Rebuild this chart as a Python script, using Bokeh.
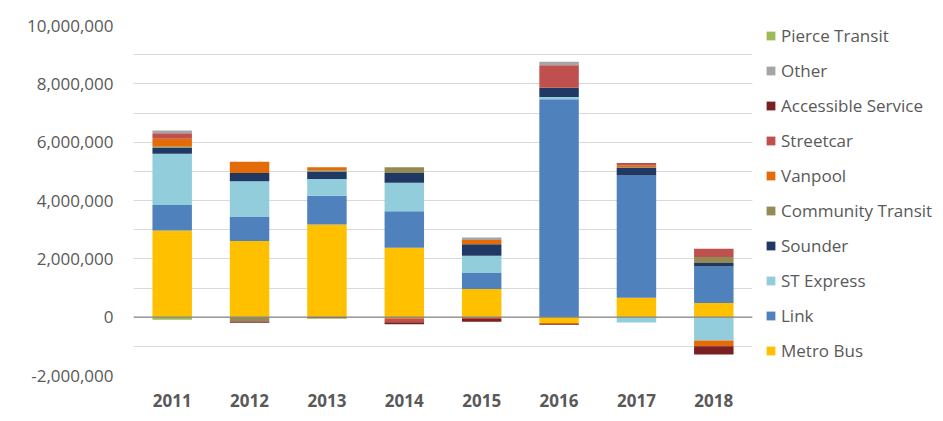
from bokeh.plotting import figure
from bokeh.models import (ColumnDataSource, Legend, LegendItem, Span,
                          SingleIntervalTicker, NumeralTickFormatter, FactorRange)
from bokeh.embed import file_html
from bokeh.resources import INLINE

years = ["2011", "2012", "2013", "2014", "2015", "2016", "2017", "2018"]

metro_bus = [2.97, 2.61, 3.18, 2.38, 0.97, -0.20, 0.67, 0.49]
link = [0.88, 0.84, 0.98, 1.25, 0.56, 7.47, 4.19, 1.25]
st_express = [1.75, 1.21, 0.58, 0.98, 0.58, 0.08, -0.18, -0.80]
sounder = [0.21, 0.28, 0.25, 0.33, 0.39, 0.32, 0.26, 0.12]
community_transit = [0.05, -0.15, 0.05, 0.20, 0.00, 0.00, 0.03, 0.20]
vanpool = [0.26, 0.39, 0.10, -0.05, 0.15, -0.03, 0.06, -0.20]
streetcar = [0.19, 0.00, 0.00, -0.12, -0.06, 0.77, 0.08, 0.29]
accessible_service = [0.00, -0.04, -0.04, -0.07, -0.10, -0.03, 0.00, -0.28]
other = [0.09, 0.00, 0.00, 0.00, 0.08, 0.12, 0.00, 0.00]
pierce_transit = [-0.09, 0.00, -0.01, 0.00, 0.00, 0.00, 0.00, 0.00]

series_names = ["Metro Bus", "Link", "ST Express", "Sounder", "Community Transit",
                "Vanpool", "Streetcar", "Accessible Service", "Other", "Pierce Transit"]
series_values = [metro_bus, link, st_express, sounder, community_transit,
                 vanpool, streetcar, accessible_service, other, pierce_transit]
series_colors = ["#FFC000", "#4F81BD", "#92CDDC", "#1F3864", "#948A54",
                 "#E36C09", "#C0504D", "#7B2020", "#A5A5A5", "#9BBB59"]

TXT = "#595959"
FONT = "Open Sans"

p = figure(x_range=FactorRange(*years), y_range=(-2_000_000, 10_000_000),
           frame_width=619, frame_height=350,
           min_border_left=133, min_border_top=25, min_border_bottom=44,
           min_border_right=0,
           output_backend="svg", toolbar_location=None)
p.outline_line_color = None

pos = [0.0] * len(years)
neg = [0.0] * len(years)
items = []
for name, vals, col in zip(series_names, series_values, series_colors):
    bottoms, tops = [], []
    for i, v in enumerate(vals):
        v = v * 1_000_000
        if v >= 0:
            bottoms.append(pos[i]); tops.append(pos[i] + v); pos[i] += v
        else:
            bottoms.append(neg[i]); tops.append(neg[i] + v); neg[i] += v
    src = ColumnDataSource(dict(x=years, bottom=bottoms, top=tops))
    r = p.vbar(x="x", bottom="bottom", top="top", width=0.51, source=src,
               fill_color=col, line_color=None)
    items.append(LegendItem(label=name, renderers=[r]))

p.add_layout(Span(location=0, dimension="width", line_color="#868686", line_width=1.2))

ticker = SingleIntervalTicker(interval=2_000_000, num_minor_ticks=2)
p.yaxis.ticker = ticker
p.yaxis.formatter = NumeralTickFormatter(format="0,0")
p.ygrid.ticker = ticker
p.ygrid.grid_line_color = "#D9D9D9"
p.ygrid.minor_grid_line_color = "#D9D9D9"
p.xgrid.grid_line_color = None

for ax in (p.xaxis, p.yaxis):
    ax.axis_line_color = None
    ax.major_tick_line_color = None
    ax.minor_tick_line_color = None
    ax.major_label_text_color = TXT
    ax.major_label_text_font = FONT
    ax.major_label_text_font_size = "17px"
p.yaxis.major_label_standoff = 14
p.xaxis.major_label_standoff = 12
p.xaxis.major_label_text_font_style = "bold"

legend = Legend(items=list(reversed(items)), location=(13, 13),
                glyph_width=11, glyph_height=11, label_height=20, spacing=12,
                label_standoff=5, padding=0, margin=0,
                label_text_font=FONT, label_text_font_size="17px",
                label_text_color=TXT, border_line_color=None,
                background_fill_alpha=0)
p.add_layout(legend, "right")

open("out.html", "w").write(file_html(p, INLINE))
